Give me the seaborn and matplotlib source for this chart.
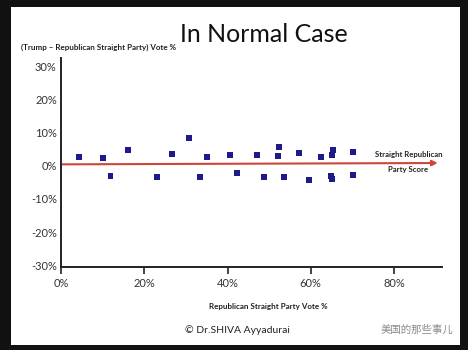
import numpy as np
import pandas as pd
import matplotlib
matplotlib.use("Agg")
import matplotlib.pyplot as plt
import seaborn as sns

# Set style
sns.set_theme(style="white")
plt.rcParams['font.family'] = ['Lato', 'Noto Sans CJK SC', 'DejaVu Sans']

# -----------------------------
# Data
# -----------------------------
rep_vote = [4.3, 10.1, 11.9, 16.1, 23.1, 26.7, 30.7, 33.4, 35.0, 40.6, 42.3,
            47.1, 48.8, 52.3, 52.2, 53.6, 57.2, 59.5, 62.5, 65.0, 65.4, 64.8,
            65.0, 70.2, 70.2]
trump_diff = [2.7, 2.3, -3.2, 4.8, -3.5, 3.4, 8.3, -3.5, 2.7, 3.2, -2.2,
              3.3, -3.4, 5.6, 2.8, -3.4, 3.9, -4.4, 2.7, 3.1, 4.8, -3.1,
              -3.9, 4.2, -2.8]

# straight party reference arrow
line_x = [0, 90.5]
line_y = [0.4, 0.8]

x_ticks = [0, 20, 40, 60, 80]
x_labels = ["0%", "20%", "40%", "60%", "80%"]
y_ticks = [-30, -20, -10, 0, 10, 20, 30]
y_labels = ["-30%", "-20%", "-10%", "0%", "10%", "20%", "30%"]

df = pd.DataFrame({"rep": rep_vote, "diff": trump_diff})

# -----------------------------
# Figure
# -----------------------------
fig = plt.figure(figsize=(4.68, 3.5), dpi=100)
fig.patch.set_facecolor("#111111")
slide = plt.Rectangle((0.0235, 0.0143), 0.959, 0.966, transform=fig.transFigure,
                      facecolor="white", edgecolor="none", zorder=-10)
fig.add_artist(slide)

ax = fig.add_axes([0.1303, 0.2371, 0.814, 0.5971])
ax.set_facecolor("none")

sns.scatterplot(data=df, x="rep", y="diff", marker="s", s=18, color="#1f1a8a",
                edgecolor="none", ax=ax, zorder=3)

ax.annotate("", xy=(line_x[1], line_y[1]), xytext=(line_x[0], line_y[0]),
            arrowprops=dict(arrowstyle="-|>", color="#d0453a", lw=1.5,
                            mutation_scale=8, shrinkA=0, shrinkB=0), zorder=2)

ax.text(83.6, 3.3, "Straight Republican", ha="center", va="center",
        fontsize=5.6, fontweight="bold", color="#222222", clip_on=False)
ax.text(83.4, -1.2, "Party Score", ha="center", va="center",
        fontsize=5.6, fontweight="bold", color="#222222", clip_on=False)

ax.set_xlim(0, 91.5)
ax.set_ylim(-30.5, 32.4)
ax.set_xticks(x_ticks)
ax.set_xticklabels(x_labels)
ax.set_yticks(y_ticks)
ax.set_yticklabels(y_labels)
ax.set_xlabel("")
ax.set_ylabel("")
ax.tick_params(axis="x", length=5, width=1.2, color="#222222", direction="out",
               labelsize=8, labelcolor="#333333", pad=3, bottom=True)
ax.tick_params(axis="y", length=0, labelsize=8, labelcolor="#333333", pad=3)

sns.despine(ax=ax)
for side in ["left", "bottom"]:
    ax.spines[side].set_color("#222222")
    ax.spines[side].set_linewidth(1.4)

# Texts on the slide
fig.text(0.564, 0.9, "In Normal Case", ha="center", va="center",
         fontsize=18, color="#111111")
fig.text(0.045, 0.866, "(Trump \u2013 Republican Straight Party) Vote %",
         ha="left", va="center", fontsize=5.8, fontweight="bold", color="#222222")
fig.text(0.573, 0.123, "Republican Straight Party Vote %", ha="center",
         va="center", fontsize=5.8, fontweight="bold", color="#222222")
fig.text(0.508, 0.057, "\u00a9 Dr.SHIVA Ayyadurai", ha="center", va="center",
         fontsize=7.5, color="#222222")
fig.text(0.968, 0.057, "美国的那些事儿", ha="right", va="center",
         fontsize=7.5, color="#8a8a8a", family=['Noto Sans CJK SC', 'DejaVu Sans'])

plt.savefig("out.png", dpi=100, facecolor=fig.get_facecolor())
